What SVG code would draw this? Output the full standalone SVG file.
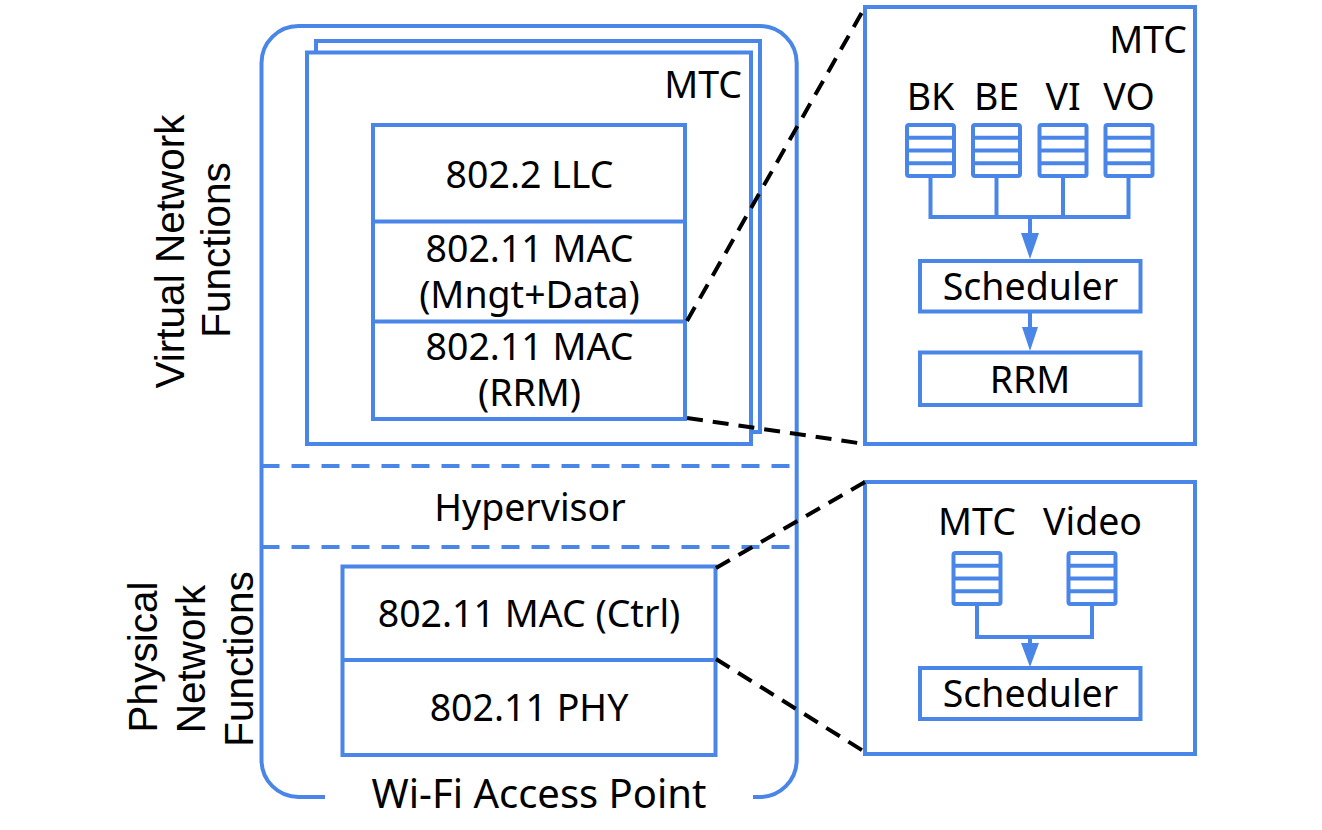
<svg xmlns="http://www.w3.org/2000/svg" xmlns:xlink="http://www.w3.org/1999/xlink" width="1322" height="830" viewBox="0 0 1322 830">
<style>
.b{fill:none;stroke:#4a86e8;stroke-width:4}
.bw{fill:#ffffff;stroke:#4a86e8;stroke-width:4}
.bd{fill:none;stroke:#4a86e8;stroke-width:4;stroke-dasharray:18 12}
.q{fill:#ffffff;stroke:#4a86e8;stroke-width:4}
.ln{fill:none;stroke:#4a86e8;stroke-width:4}
.ah{fill:#4a86e8;stroke:none}
.cd{fill:none;stroke:#000000;stroke-width:4;stroke-dasharray:16 10}
.t{font-family:"Noto Sans","DejaVu Sans",sans-serif;font-size:37.5px;fill:#000000;text-anchor:middle}
.te{font-family:"Noto Sans","DejaVu Sans",sans-serif;font-size:37.5px;fill:#000000;text-anchor:end}
.v{font-family:"Liberation Sans",Arial,sans-serif;font-size:40.5px;fill:#000000;text-anchor:middle}
</style>
<defs>
<g id="queue">
<rect class="q" x="0" y="0" width="47" height="51" rx="2"/>
<line class="ln" x1="0" y1="12.75" x2="47" y2="12.75"/>
<line class="ln" x1="0" y1="25.5" x2="47" y2="25.5"/>
<line class="ln" x1="0" y1="38.25" x2="47" y2="38.25"/>
</g>
</defs>
<rect width="1322" height="830" fill="#ffffff"/>

<g id="access-point">
<path class="b" d="M325 797 H298.5 A37 37 0 0 1 261.5 760 V63 A37 37 0 0 1 298.5 26 H759.7 A37 37 0 0 1 796.7 63 V760 A37 37 0 0 1 759.7 797 H753"/>
<text class="t" x="539" y="808" style="font-size:40px">Wi-Fi Access Point</text>
</g>

<g id="labels">
<text class="v" transform="translate(184 251.5) rotate(-90)">Virtual Network</text>
<text class="v" transform="translate(230 250) rotate(-90)">Functions</text>
<text class="v" transform="translate(157 657) rotate(-90)">Physical</text>
<text class="v" transform="translate(205 659) rotate(-90)">Network</text>
<text class="v" transform="translate(253 659) rotate(-90)">Functions</text>
</g>

<g id="vnf-stack">
<rect class="bw" x="316" y="41" width="444" height="391"/>
<rect class="bw" x="307" y="52.5" width="444" height="391.5"/>
<text class="te" x="742" y="98">MTC</text>
</g>

<g id="vnf-layers">
<rect class="bw" x="373" y="125" width="312" height="294"/>
<line class="b" x1="373" y1="221.5" x2="685" y2="221.5"/>
<line class="b" x1="373" y1="321.5" x2="685" y2="321.5"/>
<text class="t" x="529.5" y="188">802.2 LLC</text>
<text class="t" x="529.5" y="262">802.11 MAC</text>
<text class="t" x="529.5" y="308">(Mngt+Data)</text>
<text class="t" x="529.5" y="360">802.11 MAC</text>
<text class="t" x="529.5" y="406">(RRM)</text>
</g>

<g id="hypervisor">
<line class="bd" x1="261.5" y1="466" x2="796.7" y2="466"/>
<line class="bd" x1="261.5" y1="547" x2="796.7" y2="547"/>
<text class="t" x="530" y="521">Hypervisor</text>
</g>

<g id="pnf-layers">
<rect class="bw" x="342.5" y="566.5" width="373" height="188.5"/>
<line class="b" x1="342.5" y1="660" x2="715.5" y2="660"/>
<text class="t" x="529" y="627">802.11 MAC (Ctrl)</text>
<text class="t" x="529" y="721">802.11 PHY</text>
</g>

<g id="mtc-detail">
<rect class="b" x="865" y="7" width="330" height="437"/>
<text class="te" x="1187" y="53">MTC</text>
<text class="t" x="930.5" y="110">BK</text>
<text class="t" x="996.5" y="110">BE</text>
<text class="t" x="1063" y="110">VI</text>
<text class="t" x="1129" y="110">VO</text>
<use xlink:href="#queue" x="907" y="125"/>
<use xlink:href="#queue" x="973" y="125"/>
<use xlink:href="#queue" x="1039.5" y="125"/>
<use xlink:href="#queue" x="1105.5" y="125"/>
<rect class="b" x="920" y="261" width="220.5" height="50.5"/>
<text class="t" x="1030.5" y="300">Scheduler</text>
<rect class="b" x="920" y="352.5" width="220.5" height="52.5"/>
<text class="t" x="1030" y="393">RRM</text>
</g>

<g id="ap-detail">
<rect class="b" x="865" y="482" width="330" height="272"/>
<text class="t" x="977" y="535">MTC</text>
<text class="t" x="1092.5" y="535">Video</text>
<use xlink:href="#queue" x="953.5" y="553"/>
<use xlink:href="#queue" x="1068.5" y="553"/>
<rect class="b" x="920" y="668" width="220.5" height="51"/>
<text class="t" x="1030.5" y="707">Scheduler</text>
</g>

<g id="connectors">
<polyline class="ln" points="930.5,176 930.5,217 1128.5,217 1128.5,176"/>
<line class="ln" x1="996.5" y1="176" x2="996.5" y2="217"/>
<line class="ln" x1="1063" y1="176" x2="1063" y2="217"/>
<line class="ln" x1="1030" y1="217" x2="1030" y2="236"/>
<polygon class="ah" points="1021,233 1039,233 1030,259"/>
<line class="ln" x1="1030" y1="311.5" x2="1030" y2="330"/>
<polygon class="ah" points="1022,327 1038,327 1030,351"/>
<polyline class="ln" points="977,604 977,637 1092,637 1092,604"/>
<line class="ln" x1="1030" y1="637" x2="1030" y2="646"/>
<polygon class="ah" points="1021,643 1039,643 1030,667"/>
<line class="cd" x1="687" y1="321" x2="865" y2="7"/>
<line class="cd" x1="687" y1="418" x2="865" y2="444"/>
<line class="cd" x1="716" y1="568" x2="865" y2="482"/>
<line class="cd" x1="716" y1="659" x2="865" y2="752"/>
</g>
</svg>
